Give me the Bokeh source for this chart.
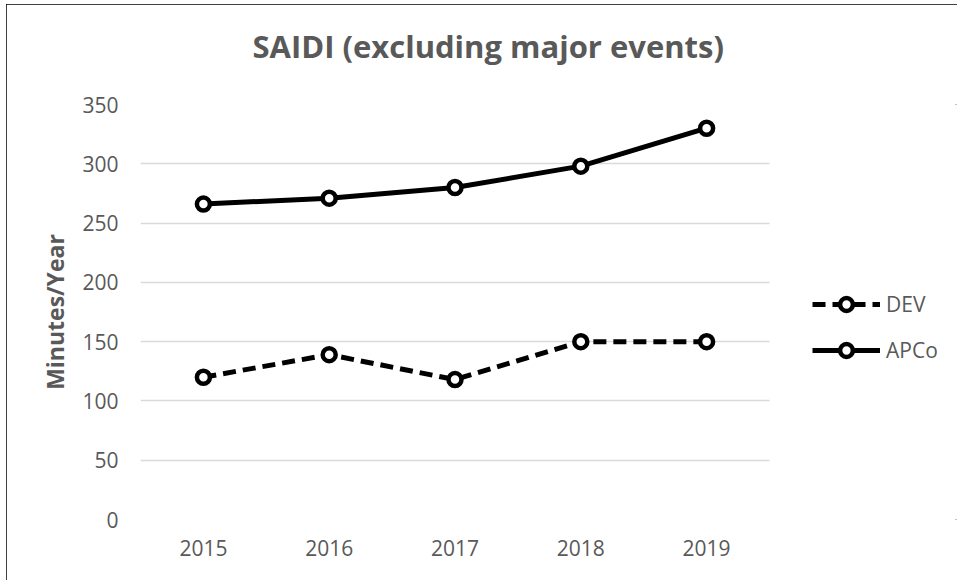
from bokeh.plotting import figure
from bokeh.models import Range1d, FixedTicker, Legend, LegendItem
from bokeh.embed import file_html
from bokeh.resources import INLINE

years = ["2015", "2016", "2017", "2018", "2019"]
dev = [120, 139, 118, 150, 150]
apco = [266, 271, 280, 298, 330]
y_ticks = [0, 50, 100, 150, 200, 250, 300, 350]
title_text = "SAIDI (excluding major events)"
y_label = "Minutes/Year"

GRAY = "#595959"
FONT = "Open Sans"

OX, OY = 6, 4          # figure offset (chart border position)
W, H = 951, 576
# category slots: one unit per year; the years span 140..769 px (page coords),
# frame is extended to the right edge so the legend sits inside it
n = len(years)
xs = [i + 0.5 for i in range(n)]
x_end = n * (W - (140 - OX)) / (769 - 140)

p = figure(width=W, height=H,
           x_range=Range1d(0, x_end),
           y_range=Range1d(0, 350),
           output_backend="svg", toolbar_location=None,
           min_border_left=140 - OX, min_border_right=0,
           min_border_top=104 - OY, min_border_bottom=H - (519 - OY))
p.outline_line_color = None
p.background_fill_color = "white"
p.border_fill_color = "white"
p.styles = {"margin-left": f"{OX}px", "margin-top": f"{OY}px",
            "outline": "2px solid black", "outline-offset": "-2px"}

# title
p.title.text = title_text
p.title.align = "left"
p.title.offset = 112
p.title.vertical_align = "bottom"
p.title.standoff = 0
p.title.padding = {"left": 0, "right": 0, "top": 0, "bottom": 38}
p.title.text_font = FONT
p.title.text_font_style = "bold"
p.title.text_font_size = "31px"
p.title.text_color = GRAY

r_dev_l = p.line(xs, dev, line_width=5, line_color="black", line_dash="13 7", line_join="round")
r_dev_p = p.scatter(xs, dev, marker="circle", size=13, fill_color="white",
                    line_color="black", line_width=4.5)
r_apco_l = p.line(xs, apco, line_width=5, line_color="black", line_join="round")
r_apco_p = p.scatter(xs, apco, marker="circle", size=13, fill_color="white",
                     line_color="black", line_width=4.5)

# axes
for ax in (p.xaxis, p.yaxis):
    ax.axis_line_color = None
    ax.major_tick_line_color = None
    ax.minor_tick_line_color = None
    ax.major_label_text_font = FONT
    ax.major_label_text_font_size = "21px"
    ax.major_label_text_color = GRAY
p.xaxis.ticker = FixedTicker(ticks=xs)
p.xaxis.major_label_overrides = {x: y for x, y in zip(xs, years)}
p.xaxis.major_label_standoff = 14
p.yaxis.ticker = FixedTicker(ticks=y_ticks)
p.yaxis.major_label_standoff = 16
p.yaxis.axis_label = y_label
p.yaxis.axis_label_text_font = FONT
p.yaxis.axis_label_text_font_style = "bold"
p.yaxis.axis_label_text_font_size = "23px"
p.yaxis.axis_label_text_color = GRAY
p.yaxis.axis_label_standoff = 8

p.xgrid.grid_line_color = None
p.ygrid.grid_line_color = "#d9d9d9"
p.ygrid.grid_line_width = 1.5
p.ygrid.cross_bounds = (0, n)

legend = Legend(items=[LegendItem(label="DEV", renderers=[r_dev_l, r_dev_p]),
                       LegendItem(label="APCo", renderers=[r_apco_l, r_apco_p])],
                location=(812 - 140, 519 - 366), glyph_width=68, glyph_height=32,
                spacing=14, padding=0, margin=0, label_standoff=6,
                border_line_color=None, background_fill_color=None,
                label_text_font=FONT, label_text_font_size="21px",
                label_text_color=GRAY)
p.add_layout(legend)

open("out.html", "w").write(file_html(p, INLINE))
